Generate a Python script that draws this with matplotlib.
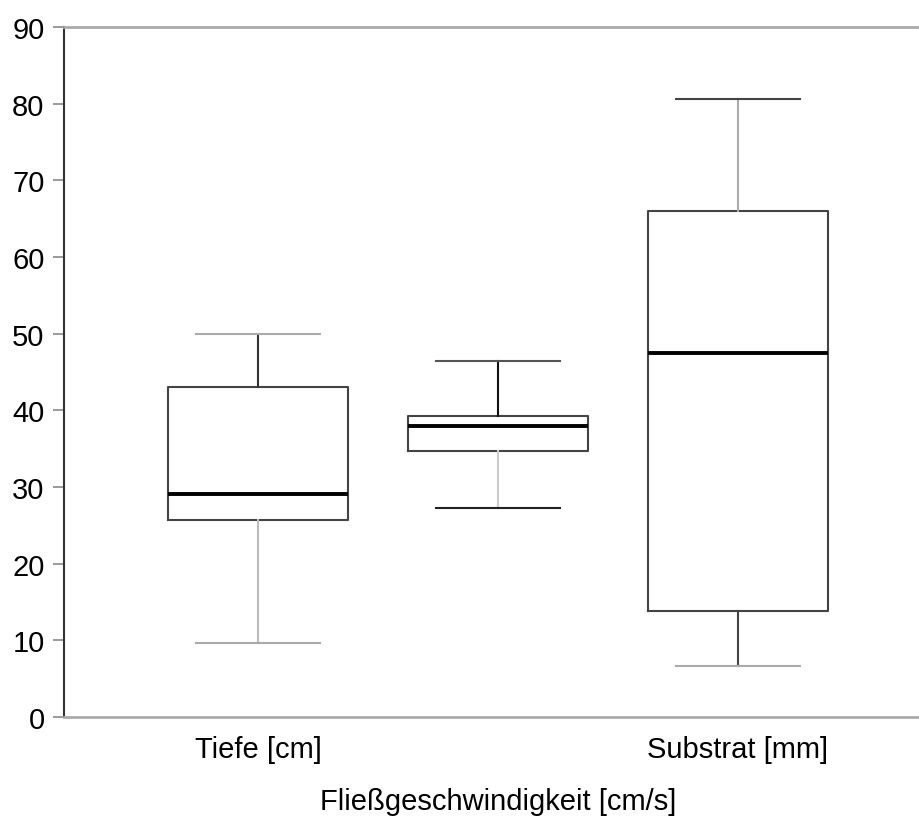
import matplotlib
matplotlib.use("Agg")
from matplotlib import pyplot as plt

plt.rcParams['font.family'] = ['Liberation Sans', 'DejaVu Sans']

# values
labels = ["Tiefe [cm]", "", "Substrat [mm]"]
whislo = [9.7, 27.3, 6.7]
q1 = [25.7, 34.7, 13.8]
med = [29.1, 37.9, 47.5]
q3 = [43.0, 39.3, 66.0]
whishi = [50.0, 46.4, 80.6]
yticks = [0, 10, 20, 30, 40, 50, 60, 70, 80, 90]

stats = []
for i in range(len(labels)):
    stats.append(dict(label=labels[i], whislo=whislo[i], q1=q1[i], med=med[i],
                      q3=q3[i], whishi=whishi[i], fliers=[]))

fig = plt.figure(figsize=(9.2, 8.2), dpi=100)
ax = fig.add_axes([64/920, 102/820, 1 - 64/920, 690/820])

bp = ax.bxp(stats, positions=[1, 2, 3], widths=0.75, showfliers=False,
            capwidths=0.52, patch_artist=False,
            boxprops=dict(color="#444444", linewidth=1.5),
            medianprops=dict(color="black", linewidth=2.8),
            whiskerprops=dict(color="#777777", linewidth=1.5),
            capprops=dict(color="#777777", linewidth=1.5))

# the scan mixes light and dark greys on the whiskers
whisk_cols = ["#bbbbbb", "#333333", "#cccccc", "#111111", "#444444", "#aaaaaa"]
cap_cols = ["#aaaaaa", "#aaaaaa", "#222222", "#555555", "#aaaaaa", "#444444"]
for line, c in zip(bp["whiskers"], whisk_cols):
    line.set_color(c)
for line, c in zip(bp["caps"], cap_cols):
    line.set_color(c)

ax.set_xlim(0.192, 3.758)
ax.set_ylim(0, 90)
ax.set_yticks(yticks)
ax.set_yticklabels([str(t) for t in yticks], fontsize=21)
ax.set_xticks([1, 2, 3])
ax.set_xticklabels(labels, fontsize=21)
ax.tick_params(axis="x", length=0, pad=13)
ax.tick_params(axis="y", length=8, width=1.2, color="#888888", pad=6)

ax.spines["right"].set_visible(False)
ax.spines["left"].set_color("#333333")
ax.spines["left"].set_linewidth(1.5)
ax.spines["top"].set_color("#aaaaaa")
ax.spines["top"].set_linewidth(2)
ax.spines["bottom"].set_color("#aaaaaa")
ax.spines["bottom"].set_linewidth(2)

ax.set_xlabel("Fließgeschwindigkeit [cm/s]", fontsize=21)
ax.xaxis.set_label_coords((2 - 0.192) / (3.758 - 0.192), -0.102)

fig.savefig("out.png", dpi=100)
